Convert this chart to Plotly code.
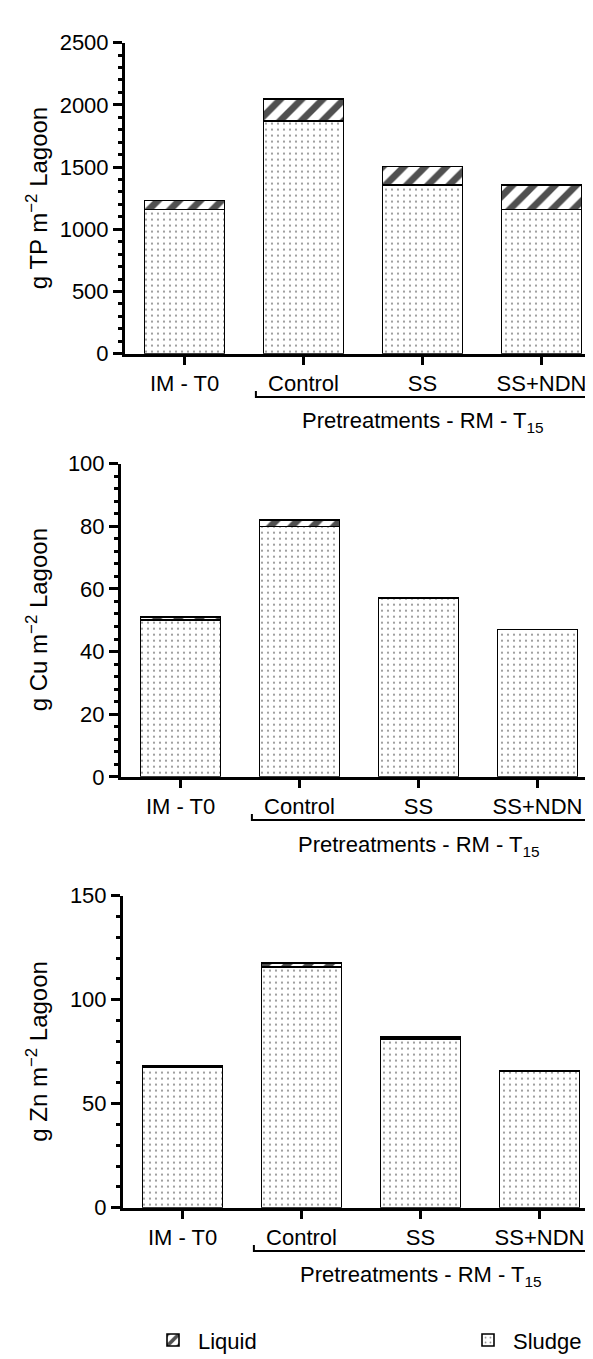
import plotly.graph_objects as go

categories = ["IM - T0", "Control", "SS", "SS+NDN"]

tp_sludge = [1160, 1870, 1355, 1160]
tp_liquid = [70, 175, 150, 195]

cu_sludge = [50, 80, 57, 47]
cu_liquid = [1, 2, 0.2, 0.1]

zn_sludge = [67.3, 115.6, 81.2, 65.4]
zn_liquid = [0.7, 1.9, 0.8, 0.6]

y_titles = ["g TP m<sup>−2</sup> Lagoon", "g Cu m<sup>−2</sup> Lagoon", "g Zn m<sup>−2</sup> Lagoon"]
y_ranges = [[0, 2500], [0, 100], [0, 150]]
y_dticks = [500, 20, 50]
y_minor = [100, 4, 10]
group_label = "Pretreatments - RM - T<sub>15</sub>"

H = 1359
W = 593
FONT = "Liberation Sans, Arial, sans-serif"

panels = [
    dict(top=23, bottom=340, left=117, right=593),
    dict(top=452, bottom=771, left=113, right=589),
    dict(top=892, bottom=1210, left=115, right=591),
]

sludge_marker = dict(color="white", line=dict(color="black", width=1.6),
                     pattern=dict(shape=".", size=6, solidity=0.1,
                                  fgcolor="#8a8a8a", fgopacity=1, bgcolor="white",
                                  fillmode="overlay"))
liquid_marker = dict(color="white", line=dict(color="black", width=1.6),
                     pattern=dict(shape="/", size=15, solidity=0.45,
                                  fgcolor="#505050", fgopacity=1, bgcolor="white",
                                  fillmode="overlay"))

fig = go.Figure()
series = [(tp_sludge, tp_liquid), (cu_sludge, cu_liquid), (zn_sludge, zn_liquid)]

for i, (sl, lq) in enumerate(series):
    xa = "x" if i == 0 else f"x{i+1}"
    ya = "y" if i == 0 else f"y{i+1}"
    fig.add_trace(go.Bar(
        x=categories, y=sl, name="Sludge", xaxis=xa, yaxis=ya,
        width=0.67, showlegend=(i == 0), legend="legend2",
        marker=sludge_marker,
    ))
    fig.add_trace(go.Bar(
        x=categories, y=lq, name="Liquid", xaxis=xa, yaxis=ya,
        width=0.67, showlegend=(i == 0), legend="legend",
        marker=liquid_marker,
    ))

legend_common = dict(orientation="h", y=1 - 1345 / H, yanchor="middle",
                     font=dict(size=22, family=FONT), itemwidth=40,
                     bgcolor="rgba(0,0,0,0)")

layout = dict(
    width=W, height=H, barmode="stack",
    margin=dict(l=0, r=0, t=0, b=0),
    paper_bgcolor="white", plot_bgcolor="white",
    font=dict(family=FONT, size=22, color="black"),
    showlegend=True,
    legend=dict(x=140 / W, xanchor="left", **legend_common),
    legend2=dict(x=455 / W, xanchor="left", **legend_common),
)

annotations = []
shapes = []
for i, p in enumerate(panels):
    xkey = "xaxis" if i == 0 else f"xaxis{i+1}"
    ykey = "yaxis" if i == 0 else f"yaxis{i+1}"
    yanchor_name = "y" if i == 0 else f"y{i+1}"
    xanchor_name = "x" if i == 0 else f"x{i+1}"
    layout[xkey] = dict(
        domain=[p["left"] / W, min(1.0, p["right"] / W)],
        range=[-0.5, 3.5], anchor=yanchor_name,
        showline=True, linecolor="black", linewidth=3,
        ticks="outside", ticklen=8, tickwidth=3, tickcolor="black",
        showgrid=False, zeroline=False, fixedrange=True,
        tickfont=dict(size=22, family=FONT),
    )
    layout[ykey] = dict(
        domain=[1 - p["bottom"] / H, 1 - p["top"] / H],
        range=y_ranges[i], anchor=xanchor_name,
        dtick=y_dticks[i], tick0=0,
        showline=True, linecolor="black", linewidth=3,
        ticks="outside", ticklen=9, tickwidth=3, tickcolor="black",
        minor=dict(dtick=y_minor[i], ticks="outside", ticklen=4, tickwidth=2.5, tickcolor="black"),
        showgrid=False, zeroline=False, fixedrange=True,
        tickfont=dict(size=22, family=FONT),
    )
    annotations.append(dict(
        text=y_titles[i], textangle=-90, xref="paper", yref="paper",
        x=29 / W, y=1 - (p["top"] + p["bottom"]) / 2 / H,
        xanchor="center", yanchor="middle", showarrow=False,
        font=dict(size=24, family=FONT),
    ))
    annotations.append(dict(
        text=group_label, xref=xanchor_name, yref="paper",
        x=2, y=1 - (p["bottom"] + 70) / H,
        xanchor="center", yanchor="middle", showarrow=False,
        font=dict(size=22, family=FONT),
    ))
    yb = 1 - (p["bottom"] + 44) / H
    yt = 1 - (p["bottom"] + 38) / H
    shapes.append(dict(
        type="path", xref=xanchor_name, yref="paper",
        path=f"M 0.6,{yt} L 0.6,{yb} L 3.46,{yb} L 3.46,{yt}",
        line=dict(color="black", width=2),
    ))

layout["annotations"] = annotations
layout["shapes"] = shapes
fig.update_layout(**layout)

fig.write_html("out.html")
